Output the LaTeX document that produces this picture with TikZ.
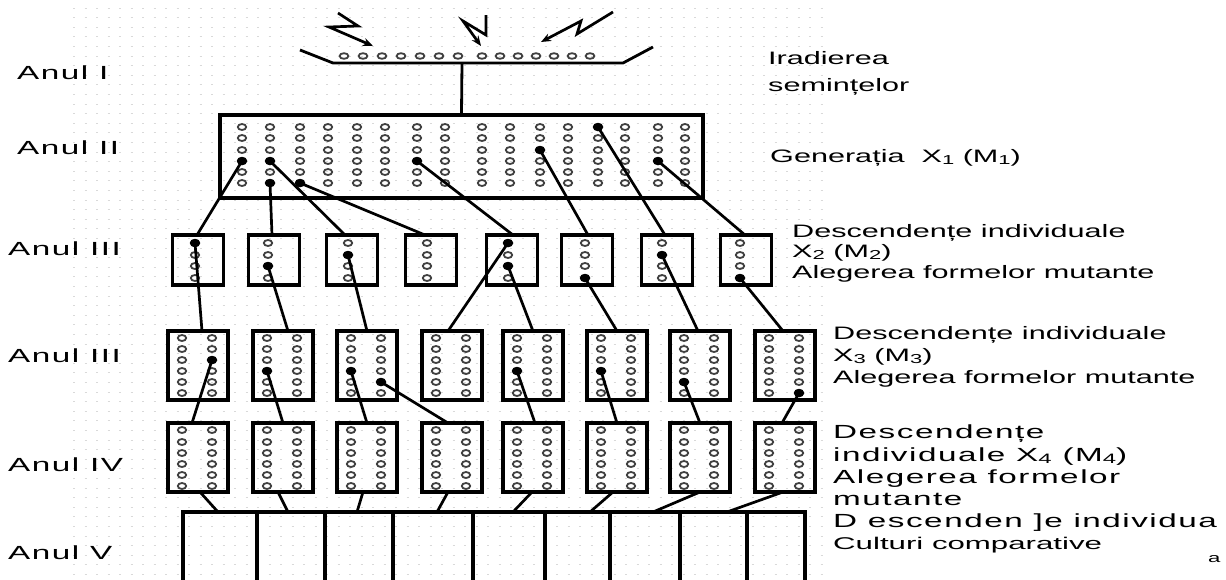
\documentclass[tikz,border=0pt]{standalone}
\usepackage{fontspec}
\usepackage{graphicx}
\usetikzlibrary{shapes.geometric,arrows.meta}
\newfontfamily\af[FakeStretch=1.7]{Liberation Sans}
\newfontfamily\afw[FakeStretch=1.75,LetterSpace=8]{Liberation Sans}
\newfontfamily\afb[FakeStretch=1.75,LetterSpace=8]{Liberation Sans}
\newcommand\sbs[1]{\raisebox{-0.25ex}{\scalebox{0.72}{#1}}}
\begin{document}
\begin{tikzpicture}[x=1pt,y=-1pt,
  gridl/.style={gray!30, line width=0.8pt, dash pattern=on 2pt off 9.5pt},
  conn/.style={black, line width=2.7pt},
  bolt/.style={black, line width=2.7pt, -{Stealth[length=10pt,width=8pt]}},
  tray/.style={black, line width=2.8pt},
  oc/.style={draw=black!75, line width=1.8pt},
  fdot/.style={ellipse, fill=black, inner sep=0pt, minimum width=10.5pt, minimum height=8.5pt},
  bigbox/.style={draw, line width=3.2pt, inner sep=0pt, minimum width=483pt, minimum height=83pt},
  boxtwo/.style={draw, line width=3.2pt, inner sep=0pt, minimum width=51pt, minimum height=50pt},
  boxsix/.style={draw, line width=3.2pt, inner sep=0pt, minimum width=60pt, minimum height=69pt},
  cell/.style={draw, line width=3.2pt, inner sep=0pt, minimum height=80pt},
  lbl/.style={inner sep=0pt, anchor=base west, font=\afw\fontsize{19}{21}\selectfont},
  rtx/.style={inner sep=0pt, anchor=base west, font=\af\fontsize{18}{20}\selectfont},
  rtb/.style={inner sep=0pt, anchor=base west, font=\afb\fontsize{19}{21}\selectfont}
]
\useasboundingbox (0,0) rectangle (1226,579);
\fill[white] (0,0) rectangle (1226,579);

% background grid
\foreach \r in {0,...,59} \draw[gridl] (73,{8+\r*9.6}) -- (830,{8+\r*9.6});

% ---------- Anul I : tray + bolts ----------
\draw[tray] (300,50) -- (333,63) -- (623,63) -- (653,47);
\foreach \x in {344,363,382,401,420,439,458,482,500,518,536,554,572,590}
  \draw[oc] (\x,56) ellipse [x radius=4.4pt, y radius=2.8pt];
\coordinate (trayc) at (462,63);
\draw[bolt] (338,13) -- (358,26) -- (329,27) -- (373,46);
\draw[bolt] (486,15) -- (486,35) -- (463,21) -- (481,46);
\draw[bolt] (613,12) -- (577,34) -- (581,21) -- (541,42);

% ---------- X1 ----------
\node[bigbox] (X1) at (461.5,156.5) {};
\draw[tray] (trayc) -- (X1.north);
\foreach \x in {242,270,300,328,357,385,417,445,482,510,540,568,598,625,658,685}
  \foreach \y in {127,138,150,161,172,183}
    \draw[oc] (\x,\y) ellipse [x radius=4.2pt, y radius=3pt];

% ---------- X2 boxes ----------
\foreach \c/\i in {198/1,274/2,352/3,431/4,512/5,587/6,667/7,746/8}
  \node[boxtwo] (B2\i) at (\c,260) {};
\foreach \x in {195,268,348,427,508,585,662,740}
  \foreach \y in {243,255,266,278}
    \draw[oc] (\x,\y) ellipse [x radius=4.2pt, y radius=3pt];

% ---------- X3 boxes ----------
\foreach \l/\i in {168/1,253/2,337/3,422/4,503/5,587/6,670/7,755/8}
  \node[boxsix] (B3\i) at ({\l+30},365.5) {};
\foreach \l in {168,253,337,422,503,587,670,755}
  \foreach \y in {338,349,360,371,382,393} {
    \draw[oc] ({\l+14},\y) ellipse [x radius=4.2pt, y radius=3pt];
    \draw[oc] ({\l+44},\y) ellipse [x radius=4.2pt, y radius=3pt];
  }

% ---------- X4 boxes ----------
\foreach \l/\i in {168/1,253/2,337/3,422/4,503/5,587/6,670/7,755/8}
  \node[boxsix] (B4\i) at ({\l+30},457.5) {};
\foreach \l in {168,253,337,422,503,587,670,755}
  \foreach \y in {430,442,453,464,475,486} {
    \draw[oc] ({\l+14},\y) ellipse [x radius=4.2pt, y radius=3pt];
    \draw[oc] ({\l+44},\y) ellipse [x radius=4.2pt, y radius=3pt];
  }

% ---------- V cells ----------
\foreach \a/\b/\i in {183/257/1,257/325/2,325/393/3,393/473/4,473/545/5,545/610/6,610/680/7,680/747/8,747/805/9}
  \node[cell, minimum width={(\b-\a)*1pt}] (V\i) at ({(\a+\b)/2},552) {};

% ---------- coordinates on box edges ----------
\coordinate (t21) at (197,235); \coordinate (t22) at (272,235);
\coordinate (t23) at (345,235); \coordinate (t24) at (425,235);
\coordinate (t25) at (513,235); \coordinate (t26) at (588,235);
\coordinate (t27) at (665,235); \coordinate (t28) at (745,235);
\coordinate (t31) at (202,331); \coordinate (t32) at (288,331);
\coordinate (t33) at (367,331); \coordinate (t34) at (448,331);
\coordinate (t35) at (533,331); \coordinate (t36) at (617,331);
\coordinate (t37) at (698,331); \coordinate (t38) at (783,331);
\coordinate (t41) at (192,423); \coordinate (t42) at (283,423);
\coordinate (t43) at (367,423); \coordinate (t44) at (448,423);
\coordinate (t45) at (535,423); \coordinate (t46) at (617,423);
\coordinate (t47) at (700,423); \coordinate (t48) at (782,423);
\coordinate (b41) at (200,492); \coordinate (b42) at (278,492);
\coordinate (b43) at (363,492); \coordinate (b44) at (448,492);
\coordinate (b45) at (532,492); \coordinate (b46) at (613,492);
\coordinate (b47) at (700,492); \coordinate (b48) at (783,492);
\coordinate (v1) at (218,512); \coordinate (v2) at (288,512);
\coordinate (v3) at (357,512); \coordinate (v4) at (437,512);
\coordinate (v5) at (513,512); \coordinate (v6) at (590,512);
\coordinate (v7) at (653,512); \coordinate (v8) at (727,512);

% ---------- selected plants (filled dots) ----------
\node[fdot] (d1) at (242,161) {}; \node[fdot] (d2) at (270,161) {};
\node[fdot] (d3) at (270,183) {}; \node[fdot] (d4) at (300,183) {};
\node[fdot] (d5) at (417,161) {}; \node[fdot] (d6) at (540,150) {};
\node[fdot] (d7) at (598,127) {}; \node[fdot] (d8) at (658,161) {};

\node[fdot] (e1) at (195,243) {}; \node[fdot] (e2) at (268,266) {};
\node[fdot] (e3) at (348,255) {}; \node[fdot] (e4) at (508,243) {};
\node[fdot] (e5) at (508,266) {}; \node[fdot] (e6) at (585,278) {};
\node[fdot] (e7) at (662,255) {}; \node[fdot] (e8) at (740,278) {};

\node[fdot] (f1) at (212,360) {}; \node[fdot] (f2) at (267,371) {};
\node[fdot] (f3) at (351,371) {}; \node[fdot] (f4) at (381,382) {};
\node[fdot] (f5) at (517,371) {}; \node[fdot] (f6) at (601,371) {};
\node[fdot] (f7) at (684,382) {}; \node[fdot] (f8) at (799,393) {};

% ---------- connectors ----------
\draw[conn] (d1.center) -- (t21); \draw[conn] (d3.center) -- (t22);
\draw[conn] (d2.center) -- (t23); \draw[conn] (d4.center) -- (t24);
\draw[conn] (d5.center) -- (t25); \draw[conn] (d6.center) -- (t26);
\draw[conn] (d7.center) -- (t27); \draw[conn] (d8.center) -- (t28);

\draw[conn] (e1.center) -- (t31); \draw[conn] (e2.center) -- (t32);
\draw[conn] (e3.center) -- (t33); \draw[conn] (e4.center) -- (t34);
\draw[conn] (e5.center) -- (t35); \draw[conn] (e6.center) -- (t36);
\draw[conn] (e7.center) -- (t37); \draw[conn] (e8.center) -- (t38);

\draw[conn] (f1.center) -- (t41); \draw[conn] (f2.center) -- (t42);
\draw[conn] (f3.center) -- (t43); \draw[conn] (f4.center) -- (t44);
\draw[conn] (f5.center) -- (t45); \draw[conn] (f6.center) -- (t46);
\draw[conn] (f7.center) -- (t47); \draw[conn] (f8.center) -- (t48);

\draw[conn] (b41) -- (v1); \draw[conn] (b42) -- (v2);
\draw[conn] (b43) -- (v3); \draw[conn] (b44) -- (v4);
\draw[conn] (b45) -- (v5); \draw[conn] (b46) -- (v6);
\draw[conn] (b47) -- (v7); \draw[conn] (b48) -- (v8);

% ---------- left labels ----------
\node[lbl] (a1) at (17,79) {Anul I};
\node[lbl] (a2) at (17,154) {Anul II};
\node[lbl] (a3) at (8,255) {Anul III};
\node[lbl] (a4) at (8,362) {Anul III};
\node[lbl] (a5) at (8,471) {Anul IV};
\node[lbl] (a6) at (8,559) {Anul V};

% ---------- right texts ----------
\node[rtx] (r1) at (768,64) {Iradierea};
\node[rtx] (r2) at (768,91) {semințelor};
\node[rtx] (r3) at (770,162) {Generația\ \ X\sbs{1} (M\sbs{1})};

\node[rtx] (s1) at (792,237) {Descendențe individuale};
\node[rtx] (s2) at (792,257) {X\sbs{2} (M\sbs{2})};
\node[rtx] (s3) at (792,278) {Alegerea formelor mutante};

\node[rtx] (u1) at (833,339) {Descendențe individuale};
\node[rtx] (u2) at (833,361) {X\sbs{3} (M\sbs{3})};
\node[rtx] (u3) at (833,383) {Alegerea formelor mutante};

\node[rtb] (w1) at (833,438) {Descendențe};
\node[rtb] (w2) at (833,461) {individuale X\sbs{4} (M\sbs{4})};
\node[rtb] (w3) at (833,483) {Alegerea formelor};
\node[rtb] (w4) at (833,505) {mutante};
\node[rtb] (w5) at (833,527) {D escenden ]e individua};
\node[rtx, font=\af\fontsize{17}{19}\selectfont] (w6) at (833,549) {\scalebox{1.08}[1]{Culturi comparative}};
\node[rtx, font=\af\fontsize{13}{15}\selectfont] (w7) at (1208,562) {a};
\end{tikzpicture}
\end{document}
